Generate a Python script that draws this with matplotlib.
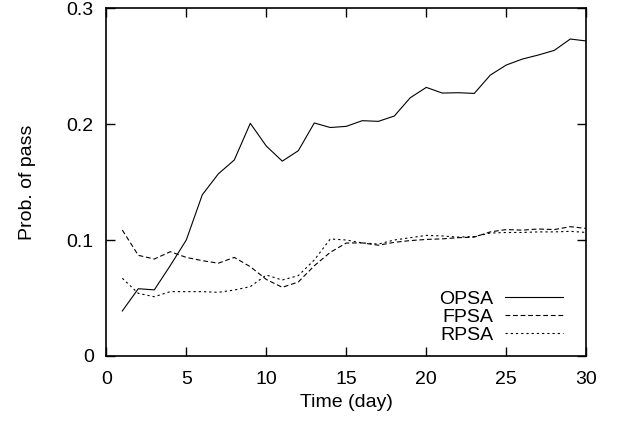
import matplotlib
matplotlib.use("Agg")
import matplotlib.pyplot as plt

days = list(range(1, 31))
opsa = [0.0388, 0.058, 0.057, 0.078, 0.100, 0.139, 0.157, 0.169, 0.2006, 0.181,
        0.168, 0.177, 0.2009, 0.197, 0.198, 0.2029, 0.2023, 0.2069, 0.2227, 0.2316,
        0.2267, 0.227, 0.2264, 0.2422, 0.2509, 0.256, 0.2595, 0.2635, 0.2733, 0.2716]
fpsa = [0.1086, 0.0868, 0.0836, 0.0899, 0.085, 0.0822, 0.080, 0.085, 0.077, 0.066,
        0.0592, 0.0638, 0.0778, 0.0894, 0.0974, 0.0975, 0.0955, 0.098, 0.0995, 0.1005,
        0.101, 0.102, 0.1025, 0.107, 0.109, 0.1085, 0.1095, 0.109, 0.1115, 0.110]
rpsa = [0.067, 0.054, 0.0511, 0.0555, 0.0555, 0.0555, 0.0549, 0.0569, 0.0598, 0.0698,
        0.0655, 0.0693, 0.0828, 0.1009, 0.100, 0.0975, 0.0965, 0.1, 0.102, 0.104,
        0.1035, 0.1025, 0.103, 0.106, 0.1065, 0.1065, 0.107, 0.107, 0.1075, 0.1065]

plt.rcParams['font.family'] = ['Liberation Sans', 'DejaVu Sans']
plt.rcParams['font.size'] = 14

fig = plt.figure(figsize=(6.18, 4.24), dpi=100)
ax = fig.add_axes([0.172, 0.1604, 0.7767, 0.8206])

ax.plot(days, opsa, color='black', lw=0.8, label='OPSA')
ax.plot(days, fpsa, color='black', lw=0.8, dashes=(4.3, 2.5), label='FPSA')
ax.plot(days, rpsa, color='black', lw=0.8, dashes=(2.0, 2.7), label='RPSA')

ax.set_xlim(0, 30)
ax.set_ylim(0, 0.3)
ax.set_xticks([0, 5, 10, 15, 20, 25, 30])
ax.set_yticks([0, 0.1, 0.2, 0.3])
ax.set_yticklabels(['0', '0.1', '0.2', '0.3'])
ax.tick_params(direction='in', length=6.5, width=1.0, top=True, right=True)
ax.tick_params(axis='x', pad=11)
ax.tick_params(axis='y', pad=9)
for s in ax.spines.values():
    s.set_linewidth(1.2)

ax.set_xlabel('Time (day)', labelpad=4)
ax.set_ylabel('Prob. of pass', labelpad=22)

leg = ax.legend(loc='lower right', bbox_to_anchor=(0.951, 0.035), frameon=False,
                markerfirst=False, handlelength=2.95, handletextpad=0.62,
                labelspacing=0.02, borderaxespad=0.0, borderpad=0.0)
for t in leg.get_texts():
    t.set_ha('right')

fig.savefig('out.png', dpi=100)
